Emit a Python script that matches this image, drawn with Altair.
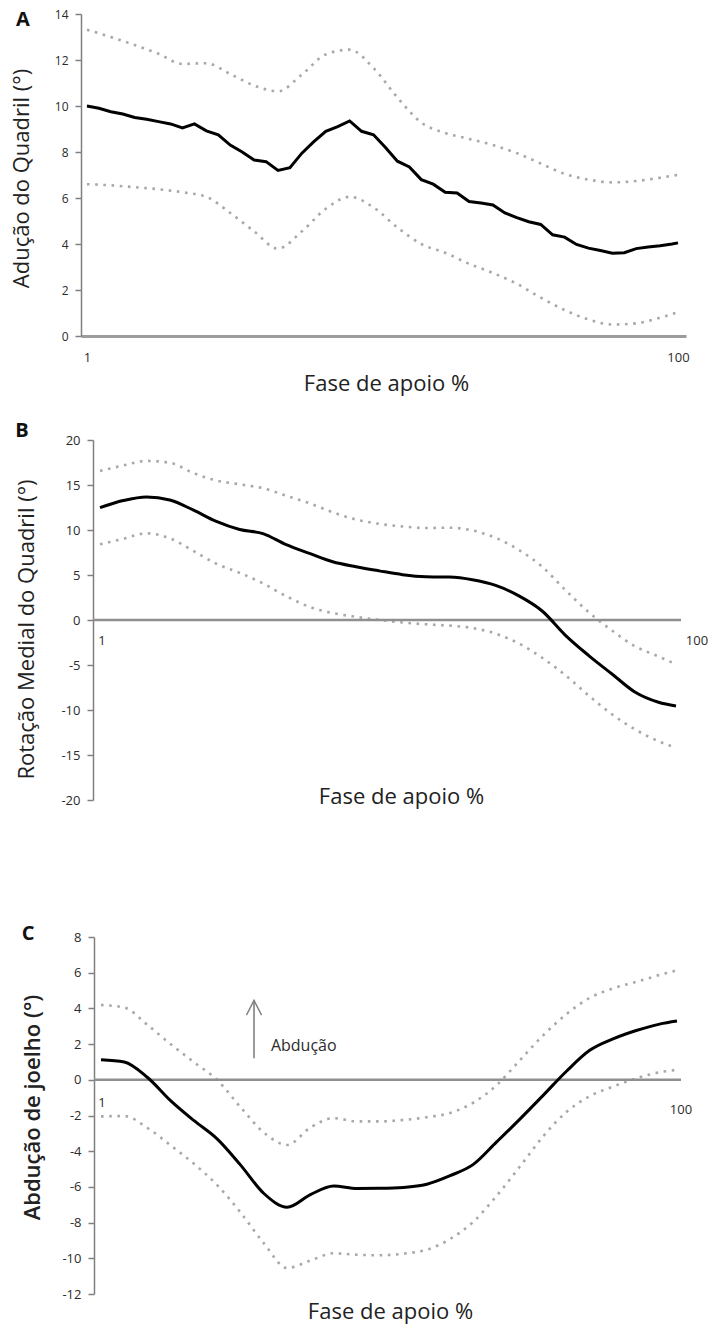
import altair as alt
import pandas as pd

# Stance phase (% of stance) at which the curves are sampled
PHASE_FINE = [1, 3, 5, 7, 9, 11, 13, 15, 17, 19, 21, 23, 25, 27, 29, 31, 33, 35, 37, 39,
              41, 43, 45, 47, 49, 51, 53, 55, 57, 59, 61, 63, 65, 67, 69, 71, 73, 75, 77, 79,
              81, 83, 85, 87, 89, 91, 93, 95, 97, 99, 100]
PHASE = [1, 5, 9, 13, 17, 21, 25, 29, 33, 37, 41, 45, 49, 53, 57, 61, 65, 69, 73, 77,
         81, 85, 89, 93, 97, 100]

# A - hip adduction (degrees): mean and mean +/- SD
HIP_ADD_MEAN = [10.0, 9.9, 9.75, 9.65, 9.5, 9.42, 9.32, 9.22, 9.05, 9.22,
                8.92, 8.75, 8.3, 8.0, 7.65, 7.58, 7.2, 7.32, 7.95, 8.45,
                8.9, 9.1, 9.35, 8.9, 8.75, 8.2, 7.6, 7.35, 6.8, 6.6,
                6.25, 6.22, 5.85, 5.78, 5.7, 5.35, 5.15, 4.97, 4.85, 4.4,
                4.3, 3.98, 3.82, 3.72, 3.6, 3.62, 3.8, 3.87, 3.92, 4.0, 4.05]
HIP_ADD_UPPER = [13.32, 13.0, 12.65, 12.27, 11.83, 11.86, 11.39, 10.89, 10.64, 11.37,
                 12.24, 12.45, 11.65, 10.37, 9.28, 8.83, 8.57, 8.3, 7.95, 7.5,
                 7.05, 6.8, 6.68, 6.74, 6.88, 7.01]
HIP_ADD_LOWER = [6.6, 6.55, 6.47, 6.38, 6.25, 6.05, 5.35, 4.55, 3.8, 4.55,
                 5.53, 6.05, 5.59, 4.72, 4.0, 3.62, 3.14, 2.74, 2.27, 1.67,
                 1.13, 0.72, 0.5, 0.55, 0.8, 1.03]

# B - hip medial rotation (degrees)
HIP_ROT_MEAN = [12.48, 13.27, 13.67, 13.33, 12.23, 10.95, 10.05, 9.6, 8.38, 7.4,
                6.47, 5.92, 5.46, 5.04, 4.81, 4.77, 4.47, 3.84, 2.68, 1.0,
                -1.7, -3.95, -6.0, -8.03, -9.14, -9.56]
HIP_ROT_UPPER = [16.56, 17.17, 17.68, 17.47, 16.34, 15.5, 15.08, 14.64, 13.81, 12.97,
                 11.97, 11.17, 10.68, 10.39, 10.22, 10.25, 9.96, 9.13, 7.78, 5.92,
                 3.32, 0.86, -1.17, -2.93, -4.05, -4.93]
HIP_ROT_LOWER = [8.41, 9.02, 9.63, 9.08, 7.7, 6.25, 5.24, 4.07, 2.65, 1.46,
                 0.77, 0.35, 0.01, -0.27, -0.48, -0.62, -0.89, -1.52, -2.61, -4.2,
                 -6.14, -8.4, -10.48, -12.17, -13.47, -14.19]

# C - knee abduction (degrees)
KNEE_ABD_MEAN = [1.13, 1.0, 0.13, -1.18, -2.29, -3.32, -4.78, -6.37, -7.14, -6.43,
                 -5.95, -6.09, -6.08, -6.03, -5.85, -5.37, -4.74, -3.48, -2.2, -0.87,
                 0.48, 1.65, 2.29, 2.76, 3.12, 3.29]
KNEE_ABD_UPPER = [4.19, 4.05, 3.07, 1.99, 0.98, -0.02, -1.54, -2.96, -3.65, -2.67,
                  -2.15, -2.33, -2.33, -2.25, -2.1, -1.86, -1.28, -0.3, 1.1, 2.49,
                  3.68, 4.59, 5.12, 5.49, 5.87, 6.14]
KNEE_ABD_LOWER = [-2.05, -2.03, -2.7, -3.68, -4.71, -5.91, -7.44, -9.16, -10.55, -10.12,
                  -9.72, -9.8, -9.83, -9.74, -9.52, -8.92, -7.95, -6.5, -4.86, -3.17,
                  -1.8, -0.92, -0.38, 0.08, 0.42, 0.56]

# "Abdução" direction arrow (data units of panel C)
ARROW_SHAFT_X = [27.3]
ARROW_SHAFT_Y = [1.21, 4.45]
ARROW_HEAD_X = [26.0, 27.3, 28.6]
ARROW_HEAD_Y = [3.62, 4.45, 3.62]
ARROW_LABEL = ["Abdução"]
ARROW_LABEL_POS = [30.2, 1.9]

X_TITLE = "Fase de apoio %"
X_LABELS = ["1", "100"]

FONT = "Open Sans"
AXIS_GREY = "#808080"
ZERO_GREY = "#8f8f8f"
DOT_GREY = "#a8a8a8"
TEXT = "#222222"
NEG_LABEL = "datum.value < 0 ? '-' + abs(datum.value) : '' + datum.value"


def band_frame(upper, lower):
    n = len(PHASE)
    return pd.DataFrame({
        "phase": PHASE + PHASE,
        "value": upper + lower,
        "bound": ["upper"] * n + ["lower"] * n,
    })


def y_axis(title, values, title_x, title_y, offset=0, size=12, weight="normal", tsize=22):
    return alt.Axis(
        values=values, title=title, grid=False, offset=offset,
        domainColor=AXIS_GREY, domainWidth=1.5, tickColor=AXIS_GREY, tickWidth=1.5,
        tickSize=6, labelFont=FONT, labelFontSize=size, labelColor="#2b2b2b",
        labelPadding=7, labelExpr=NEG_LABEL, labelOverlap=False,
        titleFont=FONT, titleFontSize=tsize, titleFontWeight=weight, titleColor=TEXT,
        titleAngle=270, titleAlign="center", titleBaseline="middle",
        titleX=title_x, titleY=title_y,
    )


def x_title_axis(title_x, title_y):
    return alt.Axis(
        labels=False, ticks=False, domain=False, grid=False, title=X_TITLE,
        titleFont=FONT, titleFontSize=22, titleFontWeight="normal", titleColor=TEXT,
        titleX=title_x, titleY=title_y, titleBaseline="middle", titleAlign="center",
    )


def dotted(df, x_enc, y_enc):
    return alt.Chart(df).mark_line(
        color=DOT_GREY, strokeWidth=2.6, strokeDash=[2.6, 5.6], strokeCap="butt",
        interpolate="monotone",
    ).encode(x=x_enc, y=y_enc, detail="bound:N")


def panel_letter(letter, x, y):
    return alt.Chart(pd.DataFrame({"t": [letter]})).mark_text(
        font=FONT, fontSize=20, fontWeight="bold", color="#111111",
        align="center", baseline="middle",
    ).encode(text="t:N", x=alt.value(x), y=alt.value(y))


def zero_line(x_enc, y_enc, left, right):
    return alt.Chart(pd.DataFrame({"phase": [1], "value": [0]})).mark_rule(
        color=ZERO_GREY, strokeWidth=2.5,
    ).encode(x=alt.value(left), x2=alt.value(right), y=y_enc)


def x_end_labels(x_enc, y_enc, xs, dxs, dys):
    layers = []
    for lab, xv, dx, dy in zip(X_LABELS, xs, dxs, dys):
        layers.append(
            alt.Chart(pd.DataFrame({"phase": [xv], "value": [0], "t": [lab]})).mark_text(
                font=FONT, fontSize=13, color="#2b2b2b", align="center",
                baseline="middle", dx=dx, dy=dy,
            ).encode(x=x_enc, y=y_enc, text="t:N")
        )
    return layers


# ---------------- Panel A ----------------
xa = alt.X("phase:Q", scale=alt.Scale(domain=[0, 101.34], nice=False, zero=False),
           axis=alt.Axis(values=[1, 100], labelFlush=False, ticks=False, grid=False,
                         domainColor="#9c9c9c", domainWidth=3,
                         labelFont=FONT, labelFontSize=13, labelColor="#2b2b2b",
                         labelPadding=15, title=X_TITLE, titleFont=FONT,
                         titleFontSize=22, titleFontWeight="normal", titleColor=TEXT,
                         titleX=305, titleY=47, titleBaseline="middle"))
ya = alt.Y("value:Q", scale=alt.Scale(domain=[0, 14], nice=False),
           axis=y_axis("Adução do Quadril (°)", list(range(0, 15, 2)), -60, 164))

mean_a = pd.DataFrame({"phase": PHASE_FINE, "value": HIP_ADD_MEAN})
panel_a = alt.layer(
    dotted(band_frame(HIP_ADD_UPPER, HIP_ADD_LOWER), xa, ya),
    alt.Chart(mean_a).mark_line(color="black", strokeWidth=3).encode(x=xa, y=ya),
    panel_letter("A", -58, 6),
).properties(width=605, height=322)

# ---------------- Panel B ----------------
xb = alt.X("phase:Q", scale=alt.Scale(domain=[-2.266, 100.86], nice=False, zero=False),
           axis=x_title_axis(320, -4))
yb = alt.Y("value:Q", scale=alt.Scale(domain=[-20, 20], nice=False),
           axis=y_axis("Rotação Medial do Quadril (°)", list(range(-20, 21, 5)), -67, 189,
                       offset=-12, size=13))

mean_b = pd.DataFrame({"phase": PHASE, "value": HIP_ROT_MEAN})
panel_b = alt.layer(
    dotted(band_frame(HIP_ROT_UPPER, HIP_ROT_LOWER), xb, yb),
    zero_line(xb, yb, 12, 600),
    alt.Chart(mean_b).mark_line(color="black", strokeWidth=3, interpolate="monotone").encode(x=xb, y=yb),
    *x_end_labels(xb, yb, [1, 100], [2, 21], [21, 21]),
    panel_letter("B", -59, -9),
).properties(width=600, height=360)

# ---------------- Panel C ----------------
xc = alt.X("phase:Q", scale=alt.Scale(domain=[-2.437, 100.69], nice=False, zero=False),
           axis=x_title_axis(309, 17))
yc = alt.Y("value:Q", scale=alt.Scale(domain=[-12, 8], nice=False),
           axis=y_axis("Abdução de joelho (°)", list(range(-12, 9, 2)), -62, 170,
                       offset=-13, size=13, weight=600, tsize=22))

mean_c = pd.DataFrame({"phase": PHASE, "value": KNEE_ABD_MEAN})
shaft = alt.Chart(pd.DataFrame({"phase": ARROW_SHAFT_X, "value": [ARROW_SHAFT_Y[0]],
                                "value2": [ARROW_SHAFT_Y[1]]})).mark_rule(
    color=AXIS_GREY, strokeWidth=1.6).encode(x=xc, y=yc, y2="value2:Q")
head = alt.Chart(pd.DataFrame({"phase": ARROW_HEAD_X, "value": ARROW_HEAD_Y})).mark_line(
    color=AXIS_GREY, strokeWidth=1.4).encode(x=xc, y=yc)
arrow_text = alt.Chart(pd.DataFrame({"phase": [ARROW_LABEL_POS[0]], "value": [ARROW_LABEL_POS[1]],
                                     "t": ARROW_LABEL})).mark_text(
    font=FONT, fontSize=16, color="#2b2b2b", align="left", baseline="middle",
).encode(x=xc, y=yc, text="t:N")

panel_c = alt.layer(
    dotted(band_frame(KNEE_ABD_UPPER, KNEE_ABD_LOWER), xc, yc),
    zero_line(xc, yc, 13, 600),
    alt.Chart(mean_c).mark_line(color="black", strokeWidth=3, interpolate="monotone").encode(x=xc, y=yc),
    shaft, head, arrow_text,
    *x_end_labels(xc, yc, [1, 100], [1, 4], [23, 30]),
    panel_letter("C", -53, -3),
).properties(width=600, height=357)

chart = alt.vconcat(
    alt.vconcat(panel_a, panel_b, spacing=27),
    panel_c,
    spacing=117,
).properties(
    padding={"left": 10, "top": 8, "right": 5, "bottom": 5},
    background="white",
).configure_view(stroke=None)

chart.save("out.html", embed_options={"renderer": "svg", "actions": False})
